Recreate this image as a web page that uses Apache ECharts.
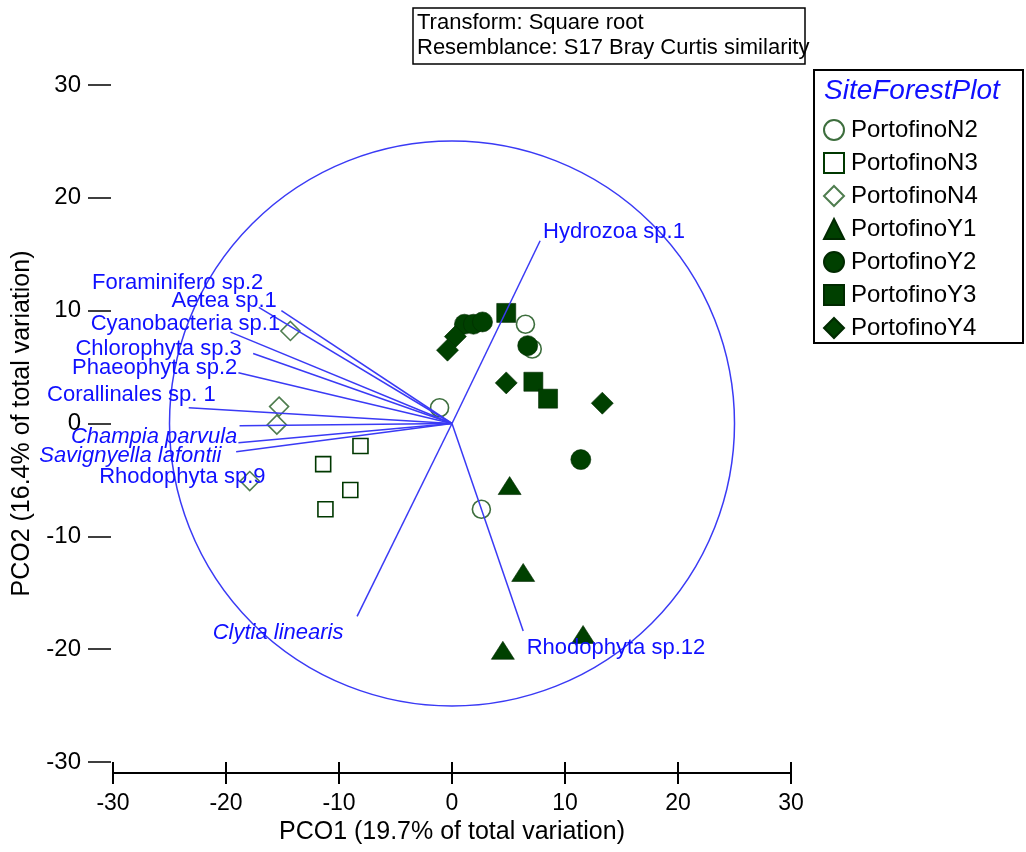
<!DOCTYPE html>
<html>
<head>
<meta charset="utf-8">
<script src="https://cdn.jsdelivr.net/npm/echarts@6/dist/echarts.min.js"></script>
<style>
html, body { margin: 0; padding: 0; background: #fff; }
#chart { width: 1026px; height: 852px; }
</style>
</head>
<body>
<div id="chart"></div>
<script>
// PCO scores (PCO1, PCO2) for each SiteForestPlot level
var portofinoN2 = [[6.5, 8.8], [7.1, 6.6], [-1.1, 1.4], [2.6, -7.6]];
var portofinoN3 = [[-8.1, -2.0], [-11.4, -3.6], [-9.0, -5.9], [-11.2, -7.6]];
var portofinoN4 = [[-14.3, 8.2], [-15.3, 1.5], [-15.5, -0.1], [-17.9, -5.1]];
var portofinoY1 = [[5.1, -5.5], [6.3, -13.2], [11.6, -18.7], [4.5, -20.1]];
var portofinoY2 = [[1.1, 8.8], [1.9, 8.8], [2.7, 9.0], [6.7, 6.9], [11.4, -3.2]];
var portofinoY3 = [[4.8, 9.8], [7.2, 3.7], [8.5, 2.2]];
var portofinoY4 = [[0.3, 7.7], [-0.4, 6.5], [4.8, 3.6], [13.3, 1.8]];

// species vectors (end points, from the origin)
var vectorNames = ['Hydrozoa sp.1', 'Foraminifero sp.2', 'Aetea sp.1', 'Cyanobacteria sp.1',
    'Chlorophyta sp.3', 'Phaeophyta sp.2', 'Corallinales sp. 1', 'Champia parvula',
    'Savignyella lafontii', 'Rhodophyta sp.9', 'Clytia linearis', 'Rhodophyta sp.12'];
var vectorEnds = [[7.8, 16.2], [-17.1, 10.3], [-15.1, 10.0], [-19.6, 8.1],
    [-17.6, 6.2], [-18.9, 4.5], [-23.3, 1.4], [-18.8, -0.2],
    [-18.9, -1.7], [-19.1, -2.5], [-8.4, -17.1], [6.3, -18.4]];
var italicNames = ['Champia parvula', 'Savignyella lafontii', 'Clytia linearis'];
var circleRadius = 25;

var axisTicks = [-30, -20, -10, 0, 10, 20, 30];
var xName = 'PCO1 (19.7% of total variation)';
var yName = 'PCO2 (16.4% of total variation)';

// where each vector name is written (data units) and on which side of that point
var labelAt = [[8.05, 16.95], [-16.7, 12.5], [-15.5, 10.9], [-15.2, 8.8],
    [-18.6, 6.6], [-19.0, 4.9], [-20.9, 2.5], [-19.0, -1.2],
    [-20.4, -2.9], [-16.5, -4.7], [-9.6, -18.6], [6.6, -19.9]];
var labelSide = ['right', 'left', 'left', 'left', 'left', 'left', 'left', 'left',
    'left', 'left', 'left', 'right'];

var FONT = '"Liberation Sans", Arial, sans-serif';
var GREEN = '#004000';
var BLUE = '#1010ff';

var myChart = echarts.init(document.getElementById('chart'));

function openSeries(name, data, symbol, size, stroke) {
    return {
        name: name, type: 'scatter', data: data, symbol: symbol, symbolSize: size,
        itemStyle: {color: 'rgba(0,0,0,0)', borderColor: stroke, borderWidth: 1.6, opacity: 1},
        z: 2
    };
}
function filledSeries(name, data, symbol, size) {
    return {
        name: name, type: 'scatter', data: data, symbol: symbol, symbolSize: size,
        itemStyle: {color: GREEN, borderColor: '#002a00', borderWidth: 0.6, opacity: 1},
        z: 2
    };
}

var labelData = vectorNames.map(function (n, i) {
    return {
        name: n,
        value: labelAt[i],
        label: {
            position: labelSide[i],
            fontStyle: italicNames.indexOf(n) >= 0 ? 'italic' : 'normal'
        }
    };
});

var legendNames = ['PortofinoN2', 'PortofinoN3', 'PortofinoN4', 'PortofinoY1',
    'PortofinoY2', 'PortofinoY3', 'PortofinoY4'];

myChart.setOption({
    animation: false,
    backgroundColor: '#fff',
    textStyle: {fontFamily: FONT},
    grid: {left: 113, right: 235, top: 85, bottom: 90, containLabel: false},
    legend: {
        data: legendNames,
        orient: 'vertical',
        left: 818,
        top: 113,
        itemGap: 9,
        itemWidth: 20,
        itemHeight: 20,
        selectedMode: false,
        textStyle: {fontSize: 24, color: '#000', fontFamily: FONT, padding: [0, 0, 0, 2]}
    },
    xAxis: [{
        type: 'value', min: -30, max: 30, interval: 10, offset: 11,
        splitLine: {show: false},
        axisLine: {show: true, onZero: false, lineStyle: {color: '#000', width: 2}},
        axisTick: {show: true, inside: true, length: 11, lineStyle: {color: '#000', width: 2}},
        axisLabel: {
            margin: 19, fontSize: 23, color: '#000', fontFamily: FONT,
            customValues: axisTicks
        },
        name: xName, nameLocation: 'middle', nameGap: 47,
        nameTextStyle: {fontSize: 25, color: '#000', fontFamily: FONT}
    }, {
        type: 'value', min: -30, max: 30, interval: 10, offset: 11, position: 'bottom',
        splitLine: {show: false},
        axisLine: {show: false, onZero: false},
        axisTick: {show: true, inside: false, length: 11, lineStyle: {color: '#000', width: 2}},
        axisLabel: {show: false}
    }],
    yAxis: {
        type: 'value', min: -30, max: 30, interval: 10, offset: 2,
        splitLine: {show: false},
        axisLine: {show: false, onZero: false},
        axisTick: {show: true, inside: false, length: 23, lineStyle: {color: '#000', width: 1.5}},
        axisLabel: {margin: 30, fontSize: 24, color: '#000', fontFamily: FONT},
        name: yName, nameLocation: 'middle', nameGap: 76,
        nameTextStyle: {fontSize: 25, color: '#000', fontFamily: FONT}
    },
    graphic: [
        {type: 'rect', shape: {x: 413, y: 8, width: 392, height: 56},
            style: {fill: '#fff', stroke: '#000', lineWidth: 1.5}},
        {type: 'text', style: {x: 417, y: 23, text: 'Transform: Square root', fontSize: 22,
            fontFamily: FONT, fill: '#000', textVerticalAlign: 'middle', verticalAlign: 'middle'}},
        {type: 'text', style: {x: 417, y: 48, text: 'Resemblance: S17 Bray Curtis similarity', fontSize: 22,
            fontFamily: FONT, fill: '#000', textVerticalAlign: 'middle', verticalAlign: 'middle'}},
        {type: 'rect', shape: {x: 814, y: 70, width: 209, height: 273},
            style: {fill: 'none', stroke: '#000', lineWidth: 2}},
        {type: 'text', style: {x: 824, y: 91, text: 'SiteForestPlot', fontSize: 28, fontStyle: 'italic',
            fontFamily: FONT, fill: BLUE, textVerticalAlign: 'middle', verticalAlign: 'middle'}}
    ],
    series: [
        openSeries('PortofinoN2', portofinoN2, 'circle', 18, '#3d6e3d'),
        openSeries('PortofinoN3', portofinoN3, 'rect', 15, '#003800'),
        openSeries('PortofinoN4', portofinoN4, 'diamond', 19, '#4f7d4f'),
        filledSeries('PortofinoY1', portofinoY1, 'triangle', [23, 18]),
        filledSeries('PortofinoY2', portofinoY2, 'circle', 20),
        filledSeries('PortofinoY3', portofinoY3, 'rect', 19),
        filledSeries('PortofinoY4', portofinoY4, 'diamond', 22),
        {
            name: 'vectors', type: 'lines', coordinateSystem: 'cartesian2d', silent: true,
            data: vectorEnds.map(function (e) { return {coords: [[0, 0], e]}; }),
            lineStyle: {color: '#3a3af5', width: 1.5, opacity: 1, curveness: 0},
            z: 3
        },
        {
            name: 'circle', type: 'custom', coordinateSystem: 'cartesian2d', silent: true,
            data: [[0, 0, circleRadius]],
            renderItem: function (params, api) {
                var c = api.coord([api.value(0), api.value(1)]);
                var r = api.size([api.value(2), 0])[0];
                return {
                    type: 'circle',
                    shape: {cx: c[0], cy: c[1], r: r},
                    style: {fill: 'none', stroke: '#3a3af5', lineWidth: 1.5}
                };
            },
            z: 3
        },
        {
            name: 'vector labels', type: 'scatter', silent: true,
            symbolSize: 0.1, itemStyle: {color: 'rgba(0,0,0,0)', opacity: 1},
            data: labelData,
            label: {show: true, formatter: '{b}', distance: 0, fontSize: 22,
                color: BLUE, opacity: 1, fontFamily: FONT},
            z: 4
        }
    ]
});
</script>
</body>
</html>
